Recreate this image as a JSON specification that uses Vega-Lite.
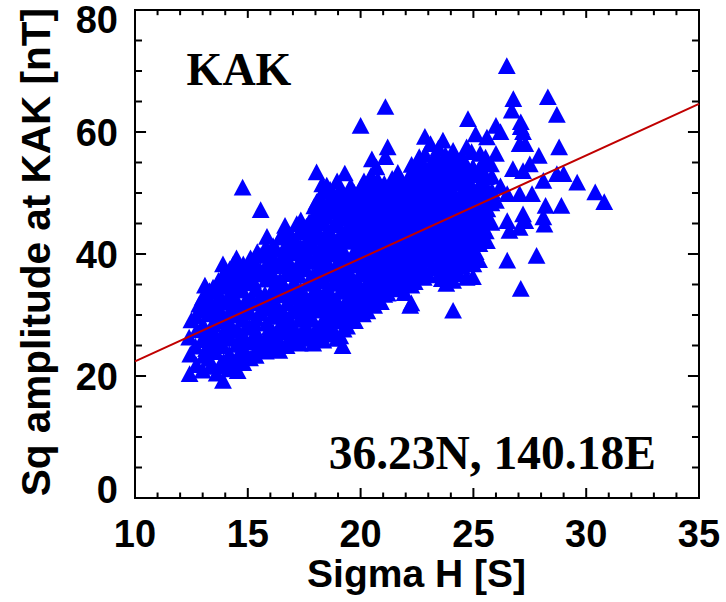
{
  "$schema": "https://vega.github.io/schema/vega-lite/v6.json",
  "width": 564,
  "height": 488,
  "autosize": "none",
  "padding": {"left": 135, "top": 10, "right": 27, "bottom": 104},
  "background": "white",
  "config": {
    "view": {"stroke": "black", "strokeWidth": 2}
  },
  "layer": [
    {
      "data": {"values": [
        {"x":12.42,"y":20.0},{"x":12.45,"y":23.2},{"x":12.4,"y":26.0},{"x":12.5,"y":28.8},
        {"x":12.72,"y":21.5},{"x":12.68,"y":24.5},{"x":12.75,"y":27.2},{"x":12.7,"y":29.5},{"x":12.85,"y":31.4},
        {"x":13.0,"y":20.6},{"x":13.05,"y":23.0},{"x":12.98,"y":25.6},{"x":13.02,"y":28.0},{"x":13.08,"y":30.4},{"x":13.0,"y":32.5},{"x":13.1,"y":34.5},
        {"x":13.35,"y":21.2},{"x":13.28,"y":22.5},{"x":13.3,"y":25.0},{"x":13.33,"y":27.3},{"x":13.27,"y":29.8},{"x":13.32,"y":32.0},{"x":13.3,"y":33.6},
        {"x":13.62,"y":20.1},{"x":13.58,"y":23.6},{"x":13.6,"y":26.2},{"x":13.65,"y":28.7},{"x":13.57,"y":31.2},{"x":13.6,"y":33.5},{"x":13.7,"y":35.3},
        {"x":13.9,"y":18.9},{"x":13.92,"y":22.0},{"x":13.88,"y":24.6},{"x":13.95,"y":27.0},{"x":13.9,"y":29.5},{"x":13.86,"y":32.0},{"x":13.93,"y":34.3},{"x":13.9,"y":36.2},{"x":13.9,"y":38.0},
        {"x":14.2,"y":20.8},{"x":14.18,"y":23.3},{"x":14.23,"y":25.8},{"x":14.2,"y":28.2},{"x":14.25,"y":30.6},{"x":14.17,"y":33.0},{"x":14.22,"y":35.4},{"x":14.2,"y":37.2},
        {"x":14.55,"y":20.5},{"x":14.48,"y":22.4},{"x":14.5,"y":24.8},{"x":14.53,"y":27.3},{"x":14.47,"y":29.6},{"x":14.52,"y":31.9},{"x":14.5,"y":34.2},{"x":14.56,"y":36.5},{"x":14.5,"y":39.0},
        {"x":14.8,"y":21.8},{"x":14.82,"y":24.0},{"x":14.78,"y":26.5},{"x":14.8,"y":28.9},{"x":14.85,"y":31.3},{"x":14.77,"y":33.7},{"x":14.82,"y":36.0},{"x":14.8,"y":38.0},{"x":14.77,"y":50.6},
        {"x":15.1,"y":22.6},{"x":15.12,"y":25.2},{"x":15.08,"y":27.6},{"x":15.1,"y":30.1},{"x":15.14,"y":32.5},{"x":15.07,"y":34.9},{"x":15.1,"y":37.1},{"x":15.12,"y":39.0},
        {"x":15.35,"y":23.0},{"x":15.42,"y":24.3},{"x":15.4,"y":26.7},{"x":15.38,"y":29.1},{"x":15.43,"y":31.6},{"x":15.4,"y":33.9},{"x":15.36,"y":36.3},{"x":15.3,"y":37.9},{"x":15.42,"y":40.0},
        {"x":15.57,"y":46.9},
        {"x":15.8,"y":23.7},{"x":15.78,"y":25.8},{"x":15.83,"y":28.3},{"x":15.8,"y":30.7},{"x":15.76,"y":33.1},{"x":15.82,"y":35.5},{"x":15.8,"y":37.7},{"x":15.8,"y":40.8},{"x":15.85,"y":42.5},
        {"x":16.1,"y":24.1},{"x":16.12,"y":26.9},{"x":16.08,"y":29.4},{"x":16.1,"y":31.8},{"x":16.14,"y":34.2},{"x":16.07,"y":36.6},{"x":16.1,"y":38.9},{"x":16.12,"y":41.0},
        {"x":16.4,"y":23.8},{"x":16.38,"y":25.5},{"x":16.43,"y":28.0},{"x":16.4,"y":30.5},{"x":16.36,"y":32.9},{"x":16.42,"y":35.3},{"x":16.4,"y":37.7},{"x":16.6,"y":40.4},{"x":16.45,"y":42.4},
        {"x":16.72,"y":24.6},{"x":16.68,"y":26.8},{"x":16.7,"y":29.2},{"x":16.73,"y":31.6},{"x":16.67,"y":34.0},{"x":16.7,"y":36.4},{"x":16.74,"y":38.8},{"x":16.7,"y":41.2},{"x":16.75,"y":43.0},{"x":16.65,"y":44.3},
        {"x":17.0,"y":25.2},{"x":17.03,"y":27.7},{"x":16.98,"y":30.2},{"x":17.0,"y":32.6},{"x":17.04,"y":35.0},{"x":16.97,"y":37.4},{"x":17.0,"y":39.8},{"x":17.02,"y":42.1},
        {"x":17.17,"y":44.6},
        {"x":17.3,"y":25.0},{"x":17.32,"y":26.4},{"x":17.28,"y":28.9},{"x":17.3,"y":31.3},{"x":17.34,"y":33.7},{"x":17.27,"y":36.1},{"x":17.3,"y":38.5},{"x":17.33,"y":40.9},{"x":17.3,"y":43.3},{"x":17.35,"y":45.2},
        {"x":17.6,"y":25.8},{"x":17.62,"y":27.6},{"x":17.58,"y":30.0},{"x":17.6,"y":32.4},{"x":17.64,"y":34.8},{"x":17.57,"y":37.2},{"x":17.6,"y":39.6},{"x":17.63,"y":42.0},{"x":17.6,"y":44.2},
        {"x":17.9,"y":25.0},{"x":17.92,"y":26.6},{"x":17.88,"y":28.9},{"x":17.9,"y":31.3},{"x":17.94,"y":33.6},{"x":17.87,"y":36.0},{"x":17.9,"y":38.4},{"x":17.93,"y":40.8},{"x":17.9,"y":43.1},{"x":17.9,"y":45.7},{"x":17.95,"y":47.5},
        {"x":18.05,"y":53.1},
        {"x":18.2,"y":25.9},{"x":18.22,"y":28.0},{"x":18.18,"y":30.4},{"x":18.2,"y":32.8},{"x":18.24,"y":35.2},{"x":18.17,"y":37.6},{"x":18.2,"y":40.0},{"x":18.23,"y":42.4},{"x":18.2,"y":44.7},{"x":18.25,"y":47.0},{"x":18.2,"y":49.0},
        {"x":18.3,"y":51.1},
        {"x":18.5,"y":26.5},{"x":18.52,"y":29.1},{"x":18.48,"y":31.5},{"x":18.5,"y":33.9},{"x":18.54,"y":36.3},{"x":18.47,"y":38.7},{"x":18.5,"y":41.1},{"x":18.53,"y":43.5},{"x":18.5,"y":45.8},{"x":18.55,"y":48.1},{"x":18.5,"y":50.9},
        {"x":18.8,"y":27.2},{"x":18.82,"y":30.0},{"x":18.78,"y":32.4},{"x":18.8,"y":34.8},{"x":18.84,"y":37.2},{"x":18.77,"y":39.6},{"x":18.8,"y":42.0},{"x":18.83,"y":44.4},{"x":18.8,"y":46.7},{"x":18.85,"y":49.2},
        {"x":19.2,"y":24.6},{"x":19.1,"y":26.2},{"x":19.12,"y":28.6},{"x":19.08,"y":31.1},{"x":19.1,"y":33.5},{"x":19.14,"y":35.9},{"x":19.07,"y":38.3},{"x":19.1,"y":40.7},{"x":19.13,"y":43.1},{"x":19.1,"y":45.5},{"x":19.15,"y":47.9},{"x":19.1,"y":50.2},
        {"x":19.3,"y":52.9},
        {"x":19.4,"y":27.8},{"x":19.42,"y":29.7},{"x":19.38,"y":32.1},{"x":19.4,"y":34.5},{"x":19.44,"y":36.9},{"x":19.37,"y":39.3},{"x":19.4,"y":41.7},{"x":19.43,"y":44.1},{"x":19.4,"y":46.5},{"x":19.45,"y":48.8},
        {"x":19.75,"y":28.7},{"x":19.7,"y":30.6},{"x":19.72,"y":33.0},{"x":19.68,"y":35.4},{"x":19.7,"y":37.8},{"x":19.74,"y":40.2},{"x":19.67,"y":42.6},{"x":19.7,"y":45.0},{"x":19.73,"y":47.4},{"x":19.7,"y":49.8},
        {"x":20.1,"y":29.8},{"x":20.0,"y":31.6},{"x":20.02,"y":34.0},{"x":19.98,"y":36.4},{"x":20.0,"y":38.8},{"x":20.04,"y":41.2},{"x":19.97,"y":43.6},{"x":20.0,"y":46.0},{"x":20.03,"y":48.4},{"x":20.0,"y":50.5},{"x":20.0,"y":60.7},
        {"x":20.3,"y":30.3},{"x":20.32,"y":32.6},{"x":20.28,"y":35.0},{"x":20.3,"y":37.4},{"x":20.34,"y":39.8},{"x":20.27,"y":42.2},{"x":20.3,"y":44.6},{"x":20.33,"y":47.0},{"x":20.3,"y":49.4},{"x":20.35,"y":51.3},
        {"x":20.6,"y":31.2},{"x":20.62,"y":33.5},{"x":20.58,"y":35.9},{"x":20.6,"y":38.3},{"x":20.64,"y":40.7},{"x":20.57,"y":43.1},{"x":20.6,"y":45.5},{"x":20.63,"y":47.9},{"x":20.6,"y":50.2},{"x":20.7,"y":53.9},{"x":20.5,"y":55.2},
        {"x":20.9,"y":31.8},{"x":20.92,"y":34.4},{"x":20.88,"y":36.8},{"x":20.9,"y":39.2},{"x":20.94,"y":41.6},{"x":20.87,"y":44.0},{"x":20.9,"y":46.4},{"x":20.93,"y":48.8},{"x":20.86,"y":50.6},
        {"x":21.1,"y":55.6},{"x":21.2,"y":57.2},{"x":21.1,"y":63.8},
        {"x":21.2,"y":33.2},{"x":21.22,"y":35.3},{"x":21.18,"y":37.7},{"x":21.2,"y":40.1},{"x":21.24,"y":42.5},{"x":21.17,"y":44.9},{"x":21.2,"y":47.3},{"x":21.23,"y":49.7},{"x":21.4,"y":52.0},
        {"x":21.45,"y":33.9},{"x":21.5,"y":36.2},{"x":21.52,"y":38.6},{"x":21.48,"y":41.0},{"x":21.5,"y":43.4},{"x":21.54,"y":45.8},{"x":21.47,"y":48.2},{"x":21.5,"y":50.4},{"x":21.6,"y":52.2},
        {"x":21.8,"y":34.5},{"x":21.82,"y":37.1},{"x":21.78,"y":39.5},{"x":21.8,"y":41.9},{"x":21.84,"y":44.3},{"x":21.77,"y":46.7},{"x":21.8,"y":49.1},{"x":21.83,"y":51.3},
        {"x":22.2,"y":31.2},{"x":22.1,"y":35.6},{"x":22.12,"y":38.0},{"x":22.08,"y":40.4},{"x":22.1,"y":42.8},{"x":22.14,"y":45.2},{"x":22.07,"y":47.6},{"x":22.1,"y":50.0},{"x":22.13,"y":52.0},
        {"x":22.25,"y":31.6},{"x":22.2,"y":52.7},
        {"x":22.4,"y":35.1},{"x":22.42,"y":36.8},{"x":22.38,"y":39.2},{"x":22.4,"y":41.6},{"x":22.44,"y":44.0},{"x":22.37,"y":46.4},{"x":22.4,"y":48.8},{"x":22.43,"y":51.2},{"x":22.5,"y":53.9},
        {"x":22.6,"y":52.7},{"x":22.6,"y":55.6},
        {"x":22.8,"y":35.8},{"x":22.7,"y":37.9},{"x":22.72,"y":40.3},{"x":22.68,"y":42.7},{"x":22.7,"y":45.1},{"x":22.74,"y":47.5},{"x":22.67,"y":49.9},{"x":22.7,"y":52.3},{"x":22.73,"y":54.5},
        {"x":22.85,"y":58.9},
        {"x":23.0,"y":36.2},{"x":23.02,"y":38.8},{"x":22.98,"y":41.2},{"x":23.0,"y":43.6},{"x":23.04,"y":46.0},{"x":22.97,"y":48.4},{"x":23.0,"y":50.8},{"x":23.03,"y":53.0},
        {"x":23.1,"y":57.7},
        {"x":23.5,"y":36.4},{"x":23.3,"y":39.6},{"x":23.32,"y":42.0},{"x":23.28,"y":44.4},{"x":23.3,"y":46.8},{"x":23.34,"y":49.2},{"x":23.27,"y":51.6},{"x":23.3,"y":54.0},{"x":23.33,"y":55.8},
        {"x":23.6,"y":35.6},{"x":23.62,"y":37.8},{"x":23.58,"y":40.4},{"x":23.6,"y":42.8},{"x":23.64,"y":45.2},{"x":23.57,"y":47.6},{"x":23.6,"y":50.0},{"x":23.63,"y":52.4},{"x":23.6,"y":54.5},{"x":23.65,"y":58.3},
        {"x":23.8,"y":34.8},{"x":23.9,"y":38.5},{"x":23.92,"y":41.3},{"x":23.88,"y":43.7},{"x":23.9,"y":46.1},{"x":23.94,"y":48.5},{"x":23.87,"y":50.9},{"x":23.9,"y":53.2},
        {"x":24.1,"y":30.4},{"x":24.1,"y":35.3},{"x":24.1,"y":56.6},
        {"x":24.2,"y":37.2},{"x":24.25,"y":39.6},{"x":24.18,"y":42.2},{"x":24.2,"y":44.6},{"x":24.24,"y":47.0},{"x":24.17,"y":49.4},{"x":24.2,"y":51.8},{"x":24.25,"y":54.4},
        {"x":24.5,"y":37.6},{"x":24.52,"y":40.5},{"x":24.5,"y":42.9},{"x":24.48,"y":45.3},{"x":24.5,"y":47.7},{"x":24.54,"y":50.1},{"x":24.47,"y":52.5},{"x":24.5,"y":55.6},
        {"x":24.7,"y":35.8},{"x":24.7,"y":57.2},{"x":24.76,"y":61.8},
        {"x":24.8,"y":38.2},{"x":24.82,"y":41.4},{"x":24.78,"y":43.8},{"x":24.8,"y":46.2},{"x":24.84,"y":48.6},{"x":24.77,"y":51.0},{"x":24.8,"y":53.3},
        {"x":24.98,"y":35.9},{"x":25.0,"y":38.0},
        {"x":25.1,"y":40.0},{"x":25.12,"y":42.5},{"x":25.08,"y":45.0},{"x":25.1,"y":47.5},{"x":25.14,"y":50.0},{"x":25.07,"y":52.6},{"x":25.1,"y":59.3},
        {"x":25.3,"y":56.1},
        {"x":25.4,"y":42.9},{"x":25.42,"y":44.2},{"x":25.38,"y":46.6},{"x":25.4,"y":49.0},{"x":25.44,"y":51.4},{"x":25.4,"y":54.4},
        {"x":25.6,"y":41.8},{"x":25.62,"y":47.0},{"x":25.58,"y":50.5},{"x":25.6,"y":58.8},
        {"x":25.8,"y":44.8},{"x":25.82,"y":52.4},
        {"x":26.0,"y":60.7},{"x":26.0,"y":56.1},{"x":26.0,"y":48.4},
        {"x":26.2,"y":59.7},{"x":26.2,"y":50.8},
        {"x":26.48,"y":70.5},{"x":26.5,"y":49.5},{"x":26.5,"y":45.1},{"x":26.5,"y":38.6},
        {"x":26.6,"y":43.5},{"x":26.7,"y":63.2},{"x":26.75,"y":53.6},{"x":26.77,"y":65.1},
        {"x":27.05,"y":57.7},{"x":27.05,"y":49.5},{"x":27.05,"y":44.0},{"x":27.1,"y":61.3},{"x":27.1,"y":34.0},{"x":27.1,"y":60.5},
        {"x":27.2,"y":59.7},{"x":27.2,"y":53.3},{"x":27.2,"y":46.2},{"x":27.3,"y":57.7},{"x":27.3,"y":45.1},
        {"x":27.5,"y":54.4},{"x":27.6,"y":49.5},{"x":27.8,"y":39.4},{"x":27.9,"y":55.8},
        {"x":28.1,"y":51.7},{"x":28.1,"y":45.7},{"x":28.15,"y":44.5},{"x":28.2,"y":47.6},{"x":28.3,"y":65.4},
        {"x":28.7,"y":62.5},{"x":28.7,"y":52.8},{"x":28.8,"y":57.2},{"x":28.9,"y":47.6},{"x":29.0,"y":52.8},
        {"x":29.6,"y":51.4},{"x":30.4,"y":49.8},{"x":30.8,"y":48.2},
        {"x":13.15,"y":24.1},{"x":13.17,"y":26.6},{"x":13.13,"y":31.2},
        {"x":13.45,"y":23.9},{"x":13.47,"y":28.2},{"x":13.44,"y":30.9},{"x":13.46,"y":34.2},
        {"x":13.75,"y":21.3},{"x":13.77,"y":25.4},{"x":13.73,"y":30.3},{"x":13.76,"y":32.8},
        {"x":14.05,"y":21.6},{"x":14.07,"y":26.4},{"x":14.03,"y":29.0},{"x":14.06,"y":31.7},{"x":14.04,"y":36.4},
        {"x":14.35,"y":22.0},{"x":14.37,"y":27.1},{"x":14.33,"y":32.5},{"x":14.36,"y":34.8},{"x":14.34,"y":37.9},
        {"x":14.65,"y":23.3},{"x":14.67,"y":25.9},{"x":14.63,"y":30.4},{"x":14.66,"y":35.2},
        {"x":14.95,"y":23.1},{"x":14.97,"y":27.9},{"x":14.93,"y":32.2},{"x":14.96,"y":37.5},
        {"x":15.25,"y":26.1},{"x":15.27,"y":28.4},{"x":15.23,"y":35.3},{"x":15.26,"y":38.6},
        {"x":15.55,"y":25.0},{"x":15.57,"y":30.0},{"x":15.53,"y":32.6},{"x":15.56,"y":36.9},{"x":15.54,"y":39.4},
        {"x":15.95,"y":25.2},{"x":15.97,"y":27.6},{"x":15.93,"y":32.4},{"x":15.96,"y":36.1},{"x":15.94,"y":39.7},
        {"x":16.25,"y":25.9},{"x":16.27,"y":30.9},{"x":16.23,"y":33.6},{"x":16.26,"y":38.2},{"x":16.24,"y":40.6},
        {"x":16.55,"y":27.3},{"x":16.57,"y":30.1},{"x":16.53,"y":35.0},{"x":16.56,"y":39.3},{"x":16.54,"y":43.1},
        {"x":16.85,"y":25.9},{"x":16.87,"y":28.5},{"x":16.83,"y":33.3},{"x":16.86,"y":37.9},{"x":16.84,"y":40.0},{"x":16.88,"y":42.7},
        {"x":17.15,"y":26.1},{"x":17.17,"y":31.0},{"x":17.13,"y":34.2},{"x":17.16,"y":36.8},{"x":17.14,"y":41.5},
        {"x":17.45,"y":27.0},{"x":17.47,"y":29.6},{"x":17.43,"y":33.0},{"x":17.46,"y":37.8},{"x":17.44,"y":40.3},{"x":17.48,"y":43.8},
        {"x":17.75,"y":26.0},{"x":17.77,"y":29.4},{"x":17.73,"y":32.0},{"x":17.76,"y":35.4},{"x":17.74,"y":38.9},{"x":17.78,"y":41.6},{"x":17.72,"y":44.9},
        {"x":18.05,"y":27.3},{"x":18.07,"y":31.2},{"x":18.03,"y":34.1},{"x":18.06,"y":36.6},{"x":18.04,"y":39.2},{"x":18.08,"y":43.4},{"x":18.02,"y":46.1},{"x":18.05,"y":48.2},
        {"x":18.35,"y":25.5},{"x":18.37,"y":28.6},{"x":18.33,"y":32.2},{"x":18.36,"y":35.6},{"x":18.34,"y":38.1},{"x":18.38,"y":41.8},{"x":18.32,"y":45.2},{"x":18.35,"y":47.6},{"x":18.36,"y":50.0},
        {"x":18.65,"y":27.7},{"x":18.67,"y":30.6},{"x":18.63,"y":33.3},{"x":18.66,"y":36.9},{"x":18.64,"y":40.6},{"x":18.68,"y":43.0},{"x":18.62,"y":47.3},{"x":18.65,"y":50.2},
        {"x":18.95,"y":25.8},{"x":18.97,"y":29.0},{"x":18.93,"y":31.7},{"x":18.96,"y":35.3},{"x":18.94,"y":38.0},{"x":18.98,"y":41.2},{"x":18.92,"y":45.1},{"x":18.95,"y":48.0},{"x":18.96,"y":51.6},
        {"x":19.25,"y":27.3},{"x":19.27,"y":30.0},{"x":19.23,"y":34.2},{"x":19.26,"y":37.4},{"x":19.24,"y":39.9},{"x":19.28,"y":42.5},{"x":19.22,"y":46.9},{"x":19.25,"y":49.4},
        {"x":19.55,"y":29.0},{"x":19.57,"y":31.4},{"x":19.53,"y":33.8},{"x":19.56,"y":36.1},{"x":19.54,"y":38.6},{"x":19.58,"y":43.2},{"x":19.52,"y":45.8},{"x":19.55,"y":48.2},{"x":19.56,"y":50.8},
        {"x":19.85,"y":30.2},{"x":19.87,"y":32.5},{"x":19.83,"y":35.0},{"x":19.86,"y":39.5},{"x":19.84,"y":42.0},{"x":19.88,"y":44.3},{"x":19.82,"y":47.0},{"x":19.85,"y":49.2},
        {"x":20.15,"y":31.0},{"x":20.17,"y":33.2},{"x":20.13,"y":37.3},{"x":20.16,"y":40.4},{"x":20.14,"y":42.8},{"x":20.18,"y":45.2},{"x":20.12,"y":47.7},{"x":20.15,"y":51.6},
        {"x":20.45,"y":31.7},{"x":20.47,"y":34.2},{"x":20.43,"y":36.5},{"x":20.46,"y":38.9},{"x":20.44,"y":41.4},{"x":20.48,"y":43.9},{"x":20.42,"y":46.2},{"x":20.45,"y":48.7},{"x":20.46,"y":52.5},
        {"x":20.75,"y":32.6},{"x":20.77,"y":35.0},{"x":20.73,"y":37.4},{"x":20.76,"y":39.9},{"x":20.74,"y":42.4},{"x":20.78,"y":44.8},{"x":20.72,"y":47.1},{"x":20.75,"y":49.5},{"x":20.76,"y":51.8},
        {"x":21.05,"y":33.0},{"x":21.07,"y":35.8},{"x":21.03,"y":38.4},{"x":21.06,"y":40.8},{"x":21.04,"y":43.3},{"x":21.08,"y":45.6},{"x":21.02,"y":47.9},{"x":21.05,"y":51.2},
        {"x":21.35,"y":34.7},{"x":21.37,"y":36.9},{"x":21.33,"y":39.3},{"x":21.36,"y":41.8},{"x":21.34,"y":44.0},{"x":21.38,"y":46.6},{"x":21.32,"y":49.0},{"x":21.35,"y":51.0},
        {"x":21.65,"y":35.2},{"x":21.67,"y":37.8},{"x":21.63,"y":40.2},{"x":21.66,"y":42.6},{"x":21.64,"y":45.0},{"x":21.68,"y":47.4},{"x":21.62,"y":49.8},{"x":21.65,"y":53.0},
        {"x":21.95,"y":33.3},{"x":21.97,"y":36.3},{"x":21.93,"y":38.7},{"x":21.96,"y":41.1},{"x":21.94,"y":43.6},{"x":21.98,"y":46.0},{"x":21.92,"y":48.4},{"x":21.95,"y":50.7},
        {"x":22.25,"y":34.5},{"x":22.27,"y":37.4},{"x":22.23,"y":39.9},{"x":22.26,"y":42.3},{"x":22.24,"y":44.7},{"x":22.28,"y":47.1},{"x":22.22,"y":49.4},{"x":22.25,"y":51.8},{"x":22.26,"y":54.3},
        {"x":22.55,"y":36.1},{"x":22.57,"y":38.4},{"x":22.53,"y":40.9},{"x":22.56,"y":43.3},{"x":22.54,"y":45.6},{"x":22.58,"y":48.0},{"x":22.52,"y":50.4},{"x":22.55,"y":52.9},
        {"x":22.85,"y":37.0},{"x":22.87,"y":39.5},{"x":22.83,"y":41.8},{"x":22.86,"y":44.2},{"x":22.84,"y":46.6},{"x":22.88,"y":49.0},{"x":22.82,"y":51.4},{"x":22.85,"y":53.7},{"x":22.86,"y":56.0},
        {"x":23.15,"y":37.3},{"x":23.17,"y":40.0},{"x":23.13,"y":42.4},{"x":23.16,"y":44.9},{"x":23.14,"y":47.2},{"x":23.18,"y":49.7},{"x":23.12,"y":52.0},{"x":23.15,"y":54.6},
        {"x":23.45,"y":38.1},{"x":23.47,"y":40.9},{"x":23.43,"y":43.3},{"x":23.46,"y":45.8},{"x":23.44,"y":48.1},{"x":23.48,"y":50.6},{"x":23.42,"y":52.9},{"x":23.45,"y":57.0},
        {"x":23.75,"y":36.6},{"x":23.77,"y":39.2},{"x":23.73,"y":41.8},{"x":23.76,"y":44.1},{"x":23.74,"y":46.7},{"x":23.78,"y":49.0},{"x":23.72,"y":51.5},{"x":23.75,"y":53.9},{"x":23.76,"y":55.9},
        {"x":24.05,"y":37.9},{"x":24.07,"y":40.4},{"x":24.03,"y":42.9},{"x":24.06,"y":45.3},{"x":24.04,"y":47.8},{"x":24.08,"y":50.1},{"x":24.02,"y":52.7},{"x":24.05,"y":55.0},
        {"x":24.35,"y":36.4},{"x":24.37,"y":38.9},{"x":24.33,"y":41.5},{"x":24.36,"y":43.9},{"x":24.34,"y":46.4},{"x":24.38,"y":48.8},{"x":24.32,"y":51.3},{"x":24.35,"y":53.5},
        {"x":24.65,"y":39.3},{"x":24.67,"y":42.1},{"x":24.63,"y":44.6},{"x":24.66,"y":47.0},{"x":24.64,"y":49.4},{"x":24.68,"y":51.9},{"x":24.62,"y":54.3},
        {"x":24.95,"y":40.8},{"x":24.97,"y":43.4},{"x":24.93,"y":45.8},{"x":24.96,"y":48.3},{"x":24.94,"y":50.7},{"x":24.98,"y":53.9},{"x":24.92,"y":56.4},
        {"x":25.25,"y":38.7},{"x":25.27,"y":41.3},{"x":25.23,"y":43.9},{"x":25.26,"y":46.2},{"x":25.24,"y":48.5},{"x":25.28,"y":51.0},{"x":25.22,"y":53.4},
        {"x":25.55,"y":43.4},{"x":25.57,"y":45.5},{"x":25.53,"y":48.2},{"x":25.56,"y":52.3},{"x":25.54,"y":55.5},
        {"x":25.8,"y":48.0},{"x":25.82,"y":50.0},{"x":25.78,"y":54.4}
      ]},
      "mark": {"type": "point", "shape": "M0,-1.2L1,0.68L-1,0.68Z", "filled": true, "color": "#0000ff", "opacity": 1, "size": 317},
      "encoding": {
        "x": {"field": "x", "type": "quantitative", "scale": {"domain": [10, 35], "nice": false, "zero": false}, "axis": null},
        "y": {"field": "y", "type": "quantitative", "scale": {"domain": [0, 80], "nice": false, "zero": false}, "axis": null}
      }
    },
    {
      "data": {"values": [{"x": 10, "y": 22.4}, {"x": 35, "y": 64.6}]},
      "mark": {"type": "line", "color": "#c00000", "strokeWidth": 2},
      "encoding": {
        "x": {"field": "x", "type": "quantitative", "axis": null},
        "y": {"field": "y", "type": "quantitative", "axis": null}
      }
    },
    {
      "data": {"values": [{"label": "KAK"}]},
      "mark": {"type": "text", "font": "Liberation Serif", "fontWeight": "bold", "fontSize": 46, "color": "black", "align": "center", "baseline": "alphabetic"},
      "encoding": {
        "text": {"field": "label"},
        "x": {"datum": 14.61, "type": "quantitative", "axis": null},
        "y": {"datum": 67.7, "type": "quantitative", "axis": null}
      }
    },
    {
      "data": {"values": [{"label": "36.23N, 140.18E"}]},
      "mark": {"type": "text", "font": "Liberation Serif", "fontWeight": "bold", "fontSize": 47.5, "color": "black", "align": "right", "baseline": "alphabetic"},
      "encoding": {
        "text": {"field": "label"},
        "x": {"datum": 33.09, "type": "quantitative", "axis": null},
        "y": {"datum": 4.7, "type": "quantitative", "axis": null}
      }
    },
    {
      "data": {"values": [{"v":10},{"v":15},{"v":20},{"v":25},{"v":30},{"v":35}]},
      "mark": {"type": "text", "font": "Liberation Sans", "fontWeight": "bold", "fontSize": 38, "color": "black", "align": "center", "baseline": "alphabetic", "dy": 49},
      "encoding": {
        "text": {"field": "v", "type": "quantitative"},
        "x": {"field": "v", "type": "quantitative", "axis": null},
        "y": {"datum": 0, "type": "quantitative", "axis": null}
      }
    },
    {
      "data": {"values": [{"n":20},{"n":40},{"n":60}]},
      "mark": {"type": "text", "font": "Liberation Sans", "fontWeight": "bold", "fontSize": 38, "color": "black", "align": "right", "baseline": "alphabetic", "dx": -17, "dy": 14.3},
      "encoding": {
        "text": {"field": "n", "type": "quantitative"},
        "y": {"field": "n", "type": "quantitative", "axis": null},
        "x": {"datum": 10, "type": "quantitative", "axis": null}
      }
    },
    {
      "data": {"values": [{"n":80}]},
      "mark": {"type": "text", "font": "Liberation Sans", "fontWeight": "bold", "fontSize": 38, "color": "black", "align": "right", "baseline": "alphabetic", "dx": -17, "dy": 23},
      "encoding": {
        "text": {"field": "n", "type": "quantitative"},
        "y": {"field": "n", "type": "quantitative", "axis": null},
        "x": {"datum": 10, "type": "quantitative", "axis": null}
      }
    },
    {
      "data": {"values": [{"n":0}]},
      "mark": {"type": "text", "font": "Liberation Sans", "fontWeight": "bold", "fontSize": 38, "color": "black", "align": "right", "baseline": "alphabetic", "dx": -17, "dy": 5},
      "encoding": {
        "text": {"field": "n", "type": "quantitative"},
        "y": {"field": "n", "type": "quantitative", "axis": null},
        "x": {"datum": 10, "type": "quantitative", "axis": null}
      }
    },
    {
      "data": {"values": [{"label": "Sigma H [S]"}]},
      "mark": {"type": "text", "font": "Liberation Sans", "fontWeight": "bold", "fontSize": 39, "color": "black", "align": "center", "baseline": "alphabetic", "dy": 89},
      "encoding": {
        "text": {"field": "label"},
        "x": {"datum": 22.48, "type": "quantitative", "axis": null},
        "y": {"datum": 0, "type": "quantitative", "axis": null}
      }
    },
    {
      "data": {"values": [{"label": "Sq amplitude at KAK [nT]"}]},
      "mark": {"type": "text", "font": "Liberation Sans", "fontWeight": "bold", "fontSize": 40.5, "color": "black", "align": "center", "baseline": "alphabetic", "angle": 270, "dy": -85},
      "encoding": {
        "text": {"field": "label"},
        "x": {"datum": 10, "type": "quantitative", "axis": null},
        "y": {"datum": 40.3, "type": "quantitative", "axis": null}
      }
    },
    {
      "data": {"values": [{"bx":10},{"bx":15},{"bx":20},{"bx":25},{"bx":30},{"bx":35}]},
      "mark": {"type": "rule", "color": "black", "strokeWidth": 2},
      "encoding": {"x": {"field": "bx", "type": "quantitative", "axis": null}, "y": {"datum": 0, "type": "quantitative", "axis": null}, "y2": {"datum": 1.64}}
    },
    {
      "data": {"values": [{"bm":11},{"bm":12},{"bm":13},{"bm":14},{"bm":16},{"bm":17},{"bm":18},{"bm":19},{"bm":21},{"bm":22},{"bm":23},{"bm":24},{"bm":26},{"bm":27},{"bm":28},{"bm":29},{"bm":31},{"bm":32},{"bm":33},{"bm":34}]},
      "mark": {"type": "rule", "color": "black", "strokeWidth": 2},
      "encoding": {"x": {"field": "bm", "type": "quantitative", "axis": null}, "y": {"datum": 0, "type": "quantitative", "axis": null}, "y2": {"datum": 0.9}}
    },
    {
      "data": {"values": [{"tx":10},{"tx":15},{"tx":20},{"tx":25},{"tx":30},{"tx":35}]},
      "mark": {"type": "rule", "color": "black", "strokeWidth": 2},
      "encoding": {"x": {"field": "tx", "type": "quantitative", "axis": null}, "y": {"datum": 80, "type": "quantitative", "axis": null}, "y2": {"datum": 78.7}}
    },
    {
      "data": {"values": [{"tm":11},{"tm":12},{"tm":13},{"tm":14},{"tm":16},{"tm":17},{"tm":18},{"tm":19},{"tm":21},{"tm":22},{"tm":23},{"tm":24},{"tm":26},{"tm":27},{"tm":28},{"tm":29},{"tm":31},{"tm":32},{"tm":33},{"tm":34}]},
      "mark": {"type": "rule", "color": "black", "strokeWidth": 2},
      "encoding": {"x": {"field": "tm", "type": "quantitative", "axis": null}, "y": {"datum": 80, "type": "quantitative", "axis": null}, "y2": {"datum": 79.15}}
    },
    {
      "data": {"values": [{"ly":0},{"ly":20},{"ly":40},{"ly":60},{"ly":80}]},
      "mark": {"type": "rule", "color": "black", "strokeWidth": 2},
      "encoding": {"y": {"field": "ly", "type": "quantitative", "axis": null}, "x": {"datum": 10, "type": "quantitative", "axis": null}, "x2": {"datum": 10.49}}
    },
    {
      "data": {"values": [{"lm":5},{"lm":10},{"lm":15},{"lm":25},{"lm":30},{"lm":35},{"lm":45},{"lm":50},{"lm":55},{"lm":65},{"lm":70},{"lm":75}]},
      "mark": {"type": "rule", "color": "black", "strokeWidth": 2},
      "encoding": {"y": {"field": "lm", "type": "quantitative", "axis": null}, "x": {"datum": 10, "type": "quantitative", "axis": null}, "x2": {"datum": 10.31}}
    },
    {
      "data": {"values": [{"ry":0},{"ry":20},{"ry":40},{"ry":60},{"ry":80}]},
      "mark": {"type": "rule", "color": "black", "strokeWidth": 2},
      "encoding": {"y": {"field": "ry", "type": "quantitative", "axis": null}, "x": {"datum": 35, "type": "quantitative", "axis": null}, "x2": {"datum": 34.51}}
    },
    {
      "data": {"values": [{"rm":5},{"rm":10},{"rm":15},{"rm":25},{"rm":30},{"rm":35},{"rm":45},{"rm":50},{"rm":55},{"rm":65},{"rm":70},{"rm":75}]},
      "mark": {"type": "rule", "color": "black", "strokeWidth": 2},
      "encoding": {"y": {"field": "rm", "type": "quantitative", "axis": null}, "x": {"datum": 35, "type": "quantitative", "axis": null}, "x2": {"datum": 34.69}}
    }
  ]
}
